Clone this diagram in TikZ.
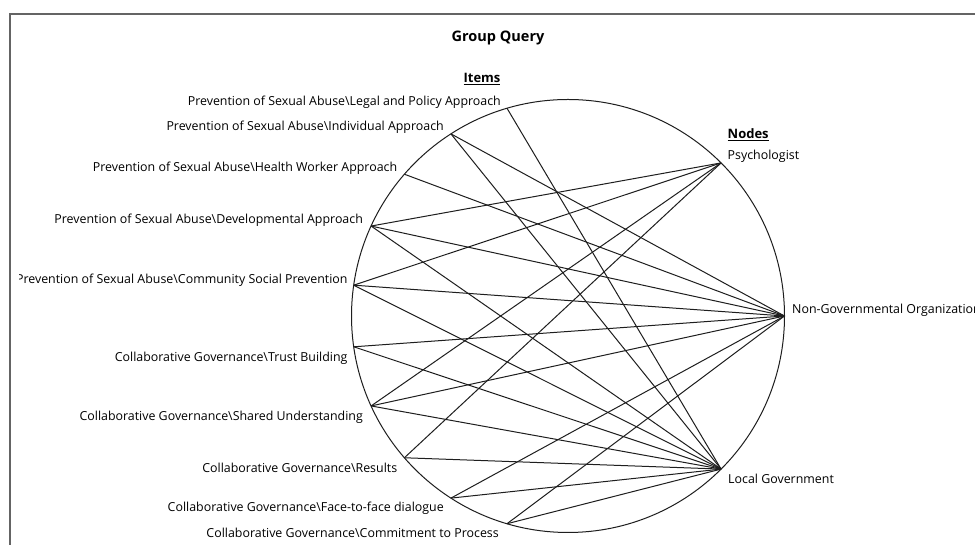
\documentclass[tikz,border=0pt]{standalone}
\usepackage{fontspec}
\setmainfont{Open Sans}
\definecolor{framegray}{RGB}{100,100,100}
\definecolor{inkgray}{RGB}{30,30,30}
\begin{document}
\begin{tikzpicture}[x=1pt,y=1pt,
  lbl/.style={font=\fontsize{12.4}{14}\selectfont, inner sep=0pt, text=black},
  headtxt/.style={font=\fontsize{13}{15}\selectfont\bfseries, inner sep=0pt, text=black},
  titletxt/.style={font=\fontsize{14.5}{16}\selectfont\bfseries, inner sep=0pt, text=black},
  edge/.style={line width=1pt, draw=inkgray},
  ring/.style={line width=1pt, draw=inkgray},
  frameline/.style={line width=1.6pt, draw=framegray}]
\useasboundingbox (0,0) rectangle (975,545);
\fill[white] (0,0) rectangle (975,545);
\draw[frameline] (10,0) -- (10,531) -- (975,531);
\begin{scope}
\clip (19,0) rectangle (975,530);
\coordinate (c) at (568,229);
\def\R{216.5}
\draw[ring] (c) circle (\R);
% item points
\coordinate (i1) at ([shift={(106.36:\R)}]c);
\coordinate (i2) at ([shift={(122.73:\R)}]c);
\coordinate (i3) at ([shift={(139.09:\R)}]c);
\coordinate (i4) at ([shift={(155.45:\R)}]c);
\coordinate (i5) at ([shift={(171.82:\R)}]c);
\coordinate (i6) at ([shift={(188.18:\R)}]c);
\coordinate (i7) at ([shift={(204.55:\R)}]c);
\coordinate (i8) at ([shift={(220.91:\R)}]c);
\coordinate (i9) at ([shift={(237.27:\R)}]c);
\coordinate (i10) at ([shift={(253.64:\R)}]c);
% node points
\coordinate (psy) at ([shift={(45:\R)}]c);
\coordinate (ngo) at ([shift={(0:\R)}]c);
\coordinate (lg) at ([shift={(-45:\R)}]c);
% headings
\node[titletxt, anchor=base] (title) at (498,503) {Group Query};
\node[headtxt, anchor=base] (itemshead) at (482,462) {\underline{Items}};
\node[headtxt, anchor=base west] (nodeshead) at (727.5,406.7) {\underline{Nodes}};
% item labels
\node[lbl, anchor=base east] (t1) at ([shift={(-6,3)}]i1) {Prevention of Sexual Abuse\textbackslash{}Legal and Policy Approach};
\node[lbl, anchor=base east] (t2) at ([shift={(-7,3)}]i2) {Prevention of Sexual Abuse\textbackslash{}Individual Approach};
\node[lbl, anchor=base east] (t3) at ([shift={(-7,3)}]i3) {Prevention of Sexual Abuse\textbackslash{}Health Worker Approach};
\node[lbl, anchor=base east] (t4) at ([shift={(-8,3)}]i4) {Prevention of Sexual Abuse\textbackslash{}Developmental Approach};
\node[lbl, anchor=base east] (t5) at ([shift={(-6,2)}]i5) {Prevention of Sexual Abuse\textbackslash{}Community Social Prevention};
\node[lbl, anchor=base east] (t6) at ([shift={(-6,-14.5)}]i6) {Collaborative Governance\textbackslash{}Trust Building};
\node[lbl, anchor=base east] (t7) at ([shift={(-8,-14.5)}]i7) {Collaborative Governance\textbackslash{}Shared Understanding};
\node[lbl, anchor=base east] (t8) at ([shift={(-7,-14.5)}]i8) {Collaborative Governance\textbackslash{}Results};
\node[lbl, anchor=base east] (t9) at ([shift={(-7,-13.5)}]i9) {Collaborative Governance\textbackslash{}Face-to-face dialogue};
\node[lbl, anchor=base east] (t10) at ([shift={(-8,-14)}]i10) {Collaborative Governance\textbackslash{}Commitment to Process};
% node labels
\node[lbl, anchor=base west] (psylbl) at (727.5,385) {Psychologist};
\node[lbl, anchor=base west] (ngolbl) at (792,231) {Non-Governmental Organization};
\node[lbl, anchor=base west] (lglbl) at (728,61) {Local Government};
% connectors
\draw[edge] (i1) -- (lg);
\draw[edge] (i2) -- (ngo);
\draw[edge] (i2) -- (lg);
\draw[edge] (i3) -- (ngo);
\draw[edge] (i4) -- (psy);
\draw[edge] (i4) -- (ngo);
\draw[edge] (i4) -- (lg);
\draw[edge] (i5) -- (psy);
\draw[edge] (i5) -- (ngo);
\draw[edge] (i5) -- (lg);
\draw[edge] (i6) -- (ngo);
\draw[edge] (i6) -- (lg);
\draw[edge] (i7) -- (psy);
\draw[edge] (i7) -- (ngo);
\draw[edge] (i7) -- (lg);
\draw[edge] (i8) -- (psy);
\draw[edge] (i8) -- (lg);
\draw[edge] (i9) -- (ngo);
\draw[edge] (i9) -- (lg);
\draw[edge] (i10) -- (ngo);
\draw[edge] (i10) -- (lg);
\end{scope}
\end{tikzpicture}
\end{document}
